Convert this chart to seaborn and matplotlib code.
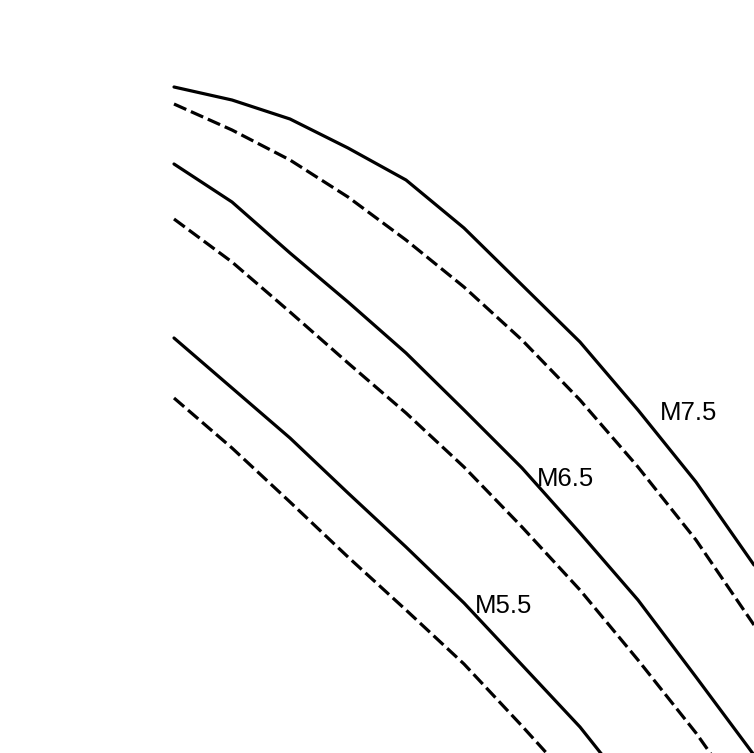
import pandas as pd
import matplotlib.pyplot as plt
import seaborn as sns

# data (x = step index, y = level, downwards)
steps = list(range(11))
m75_solid = [87, 100, 119, 148, 180, 228, 285, 342, 410, 482, 565]
m75_dash = [104, 130, 160, 197, 240, 287, 340, 400, 467, 540, 625]
m65_solid = [164, 202, 253, 302, 353, 410, 468, 533, 600, 677, 755]
m65_dash = [219, 262, 312, 363, 413, 467, 527, 590, 660, 733, 815]
m55_solid = [338, 388, 438, 493, 547, 603, 665, 727, 800, 880, 960]
m55_dash = [398, 448, 502, 557, 610, 664, 726, 790, 860, 935, 1010]

labels = ["M7.5", "M6.5", "M5.5"]
label_x = [8.38, 6.26, 5.19]
label_y = [413, 479, 606]

rows = []
for mag, kind, ys in [("M7.5", "solid", m75_solid), ("M7.5", "dash", m75_dash),
                      ("M6.5", "solid", m65_solid), ("M6.5", "dash", m65_dash),
                      ("M5.5", "solid", m55_solid), ("M5.5", "dash", m55_dash)]:
    for s, y in zip(steps, ys):
        rows.append({"step": s, "level": y, "mag": mag, "kind": kind})
df = pd.DataFrame(rows)

sns.set_style("white")
plt.rcParams['font.family'] = ['Liberation Sans', 'DejaVu Sans']

fig = plt.figure(figsize=(7.54, 7.53), dpi=100)
ax = fig.add_axes([0, 0, 1, 1])

for (mag, kind), g in df.groupby(["mag", "kind"]):
    line_ls = (0, (4.2, 1.6)) if kind == "dash" else "-"
    sns.lineplot(data=g, x="step", y="level", ax=ax, color="black",
                 linewidth=2.3, linestyle=line_ls, sort=False, legend=False)

for lab, x, y in zip(labels, label_x, label_y):
    ax.text(x, y, lab, fontsize=18.5, color="black", ha="left", va="center")

ax.set_xlim(-3, 10)
ax.set_ylim(753, 0)
ax.axis("off")

fig.savefig("out.png", dpi=100, facecolor="white")
